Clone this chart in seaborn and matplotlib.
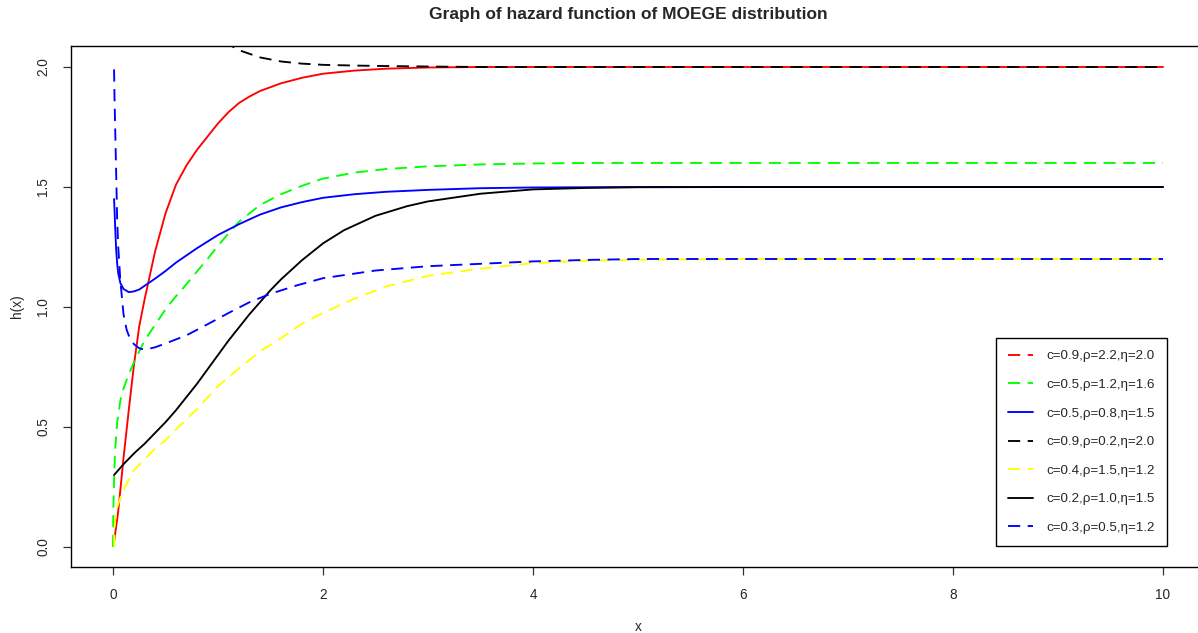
import matplotlib
matplotlib.use("Agg")
import matplotlib.pyplot as plt
import pandas as pd
import seaborn as sns
from matplotlib.lines import Line2D

# ---- data ----
red_x = [0.01, 0.05, 0.1, 0.15, 0.2, 0.25, 0.3, 0.35, 0.4, 0.45, 0.5, 0.6, 0.7, 0.8, 0.9, 1.0,
         1.1, 1.2, 1.3, 1.4, 1.6, 1.8, 2.0, 2.3, 2.6, 3.0, 3.5, 4.0, 5.0, 6.0, 7.0, 8.0, 9.0, 10.0]
red_y = [0.02, 0.15, 0.37, 0.57, 0.76, 0.92, 1.03, 1.13, 1.23, 1.31, 1.39, 1.51, 1.59, 1.655, 1.71, 1.765,
         1.812, 1.85, 1.877, 1.90, 1.932, 1.955, 1.972, 1.985, 1.993, 1.998, 2.0, 2.0, 2.0, 2.0, 2.0, 2.0, 2.0, 2.0]

green_x = [0.0, 0.003, 0.01, 0.02, 0.04, 0.07, 0.1, 0.15, 0.2, 0.3, 0.4, 0.5, 0.6, 0.7, 0.8, 0.9, 1.0,
           1.1, 1.2, 1.4, 1.6, 1.8, 2.0, 2.3, 2.6, 3.0, 3.5, 4.0, 4.5, 5.0, 6.0, 7.0, 8.0, 9.0, 10.0]
green_y = [0.0, 0.15, 0.28, 0.40, 0.52, 0.61, 0.66, 0.72, 0.77, 0.86, 0.925, 0.99, 1.045, 1.095, 1.148, 1.2, 1.255,
           1.307, 1.355, 1.425, 1.47, 1.505, 1.535, 1.56, 1.575, 1.586, 1.594, 1.598, 1.6, 1.6, 1.6, 1.6, 1.6, 1.6, 1.6]

blue_x = [0.01, 0.015, 0.02, 0.03, 0.04, 0.05, 0.07, 0.1, 0.15, 0.2, 0.25, 0.3, 0.4, 0.5, 0.6, 0.7, 0.8,
          1.0, 1.2, 1.4, 1.6, 1.8, 2.0, 2.3, 2.6, 3.0, 3.5, 4.0, 5.0, 6.0, 7.0, 8.0, 9.0, 10.0]
blue_y = [1.45, 1.40, 1.34, 1.24, 1.18, 1.14, 1.10, 1.075, 1.062, 1.065, 1.073, 1.088, 1.118, 1.15, 1.185, 1.215, 1.245,
          1.30, 1.345, 1.385, 1.415, 1.437, 1.455, 1.47, 1.48, 1.488, 1.495, 1.498, 1.5, 1.5, 1.5, 1.5, 1.5, 1.5]

blackd_x = [0.01, 0.1, 0.2, 0.4, 0.6, 0.8, 1.0, 1.2, 1.4, 1.6, 1.8, 2.0, 2.3, 2.6, 3.0, 3.5, 4.0,
            5.0, 6.0, 7.0, 8.0, 9.0, 10.0]
blackd_y = [3.6, 3.2, 2.9, 2.55, 2.33, 2.2, 2.12, 2.07, 2.04, 2.023, 2.014, 2.009, 2.006, 2.004, 2.002, 2.0, 2.0,
            2.0, 2.0, 2.0, 2.0, 2.0, 2.0]

yellow_x = [0.01, 0.015, 0.02, 0.04, 0.07, 0.1, 0.15, 0.2, 0.3, 0.4, 0.5, 0.6, 0.8, 1.0, 1.2, 1.4, 1.6,
            1.8, 2.0, 2.3, 2.6, 3.0, 3.5, 4.0, 4.5, 5.0, 6.0, 7.0, 8.0, 9.0, 10.0]
yellow_y = [0.0, 0.08, 0.11, 0.165, 0.205, 0.24, 0.28, 0.32, 0.365, 0.41, 0.445, 0.49, 0.575, 0.67, 0.745, 0.815, 0.87,
            0.93, 0.975, 1.035, 1.085, 1.13, 1.16, 1.183, 1.193, 1.197, 1.2, 1.2, 1.2, 1.2, 1.2]

black_x = [0.01, 0.1, 0.2, 0.3, 0.4, 0.5, 0.6, 0.7, 0.8, 0.9, 1.0, 1.1, 1.2, 1.3, 1.4, 1.5, 1.6, 1.8,
           2.0, 2.2, 2.5, 2.8, 3.0, 3.5, 4.0, 4.5, 5.0, 6.0, 7.0, 8.0, 9.0, 10.0]
black_y = [0.30, 0.345, 0.39, 0.43, 0.475, 0.52, 0.57, 0.625, 0.68, 0.74, 0.80, 0.86, 0.915, 0.97, 1.02, 1.07, 1.115, 1.195,
           1.265, 1.32, 1.38, 1.42, 1.44, 1.472, 1.49, 1.496, 1.499, 1.5, 1.5, 1.5, 1.5, 1.5]

blued_x = [0.01, 0.015, 0.02, 0.03, 0.04, 0.05, 0.07, 0.1, 0.13, 0.16, 0.2, 0.25, 0.3, 0.4, 0.5, 0.7, 0.9,
           1.1, 1.3, 1.5, 1.75, 2.0, 2.5, 3.0, 3.5, 4.0, 4.5, 5.0, 6.0, 7.0, 8.0, 9.0, 10.0]
blued_y = [1.99, 1.86, 1.76, 1.56, 1.36, 1.25, 1.11, 0.97, 0.905, 0.87, 0.845, 0.828, 0.822, 0.832, 0.848, 0.882, 0.928,
           0.975, 1.02, 1.055, 1.09, 1.12, 1.152, 1.17, 1.18, 1.19, 1.196, 1.2, 1.2, 1.2, 1.2, 1.2, 1.2]

legend_labels = ["c=0.9,\u03c1=2.2,\u03b7=2.0", "c=0.5,\u03c1=1.2,\u03b7=1.6", "c=0.5,\u03c1=0.8,\u03b7=1.5",
                 "c=0.9,\u03c1=0.2,\u03b7=2.0", "c=0.4,\u03c1=1.5,\u03b7=1.2", "c=0.2,\u03c1=1.0,\u03b7=1.5",
                 "c=0.3,\u03c1=0.5,\u03b7=1.2"]
x_ticks = [0, 2, 4, 6, 8, 10]
y_ticks = [0.0, 0.5, 1.0, 1.5, 2.0]

# ---- style ----
sns.set_theme(style="ticks")
plt.rcParams['font.family'] = ['Liberation Sans', 'DejaVu Sans']

W, H = 1198, 633
fig = plt.figure(figsize=(W / 100, H / 100), dpi=100)
ax = fig.add_axes([71 / W, 1 - 567 / H, (1205 - 71) / W, (567 - 46) / H])

DASH = (0, (6.5, 4))
LW = 1.35
series = [
    (red_x, red_y, "#FF0000", "-"),
    (green_x, green_y, "#00FF00", DASH),
    (blue_x, blue_y, "#0000FF", "-"),
    (blackd_x, blackd_y, "#000000", DASH),
    (yellow_x, yellow_y, "#FFFF00", DASH),
    (black_x, black_y, "#000000", "-"),
    (blued_x, blued_y, "#0000FF", DASH),
]
for xs, ys, col, ls in series:
    df = pd.DataFrame({"x": xs, "y": ys})
    sns.lineplot(data=df, x="x", y="y", ax=ax, color=col, linestyle=ls,
                 linewidth=LW, estimator=None, sort=False)

ax.set_xlim(-0.4, 10.4)
ax.set_ylim(-0.0833, 2.0875)
ax.set_xticks(x_ticks)
ax.set_xticklabels([str(t) for t in x_ticks])
ax.set_yticks(y_ticks)
ax.set_yticklabels([f"{t:.1f}" for t in y_ticks], rotation=90, va="center")
ax.tick_params(axis="both", length=6, width=0.9, color="#333333", labelsize=9.8, pad=9)
for s in ax.spines.values():
    s.set_color("black")
    s.set_linewidth(1.0)
ax.set_xlabel("x", fontsize=9.8, labelpad=13)
ax.set_ylabel("h(x)", fontsize=9.8, labelpad=9)

fig.text(628 / W, 1 - 15 / H, "Graph of hazard function of MOEGE distribution",
         ha="center", va="center", fontsize=12.5, fontweight="bold")

# legend (R-style: line types in legend as in original)
leg_styles = [("#FF0000", DASH), ("#00FF00", DASH), ("#0000FF", "-"), ("#000000", DASH),
              ("#FFFF00", DASH), ("#000000", "-"), ("#0000FF", DASH)]
handles = [Line2D([], [], color=c, linestyle=l, linewidth=LW) for c, l in leg_styles]
leg = ax.legend(handles, legend_labels, loc="lower left",
                bbox_to_anchor=(996 / W, 1 - 546 / H), bbox_transform=fig.transFigure,
                borderaxespad=0, fontsize=9.6, frameon=True, fancybox=False,
                edgecolor="black", framealpha=1, borderpad=0.9, labelspacing=1.22,
                handlelength=1.9, handletextpad=0.95)
leg.get_frame().set_linewidth(1.0)

fig.savefig("out.png", dpi=100)
